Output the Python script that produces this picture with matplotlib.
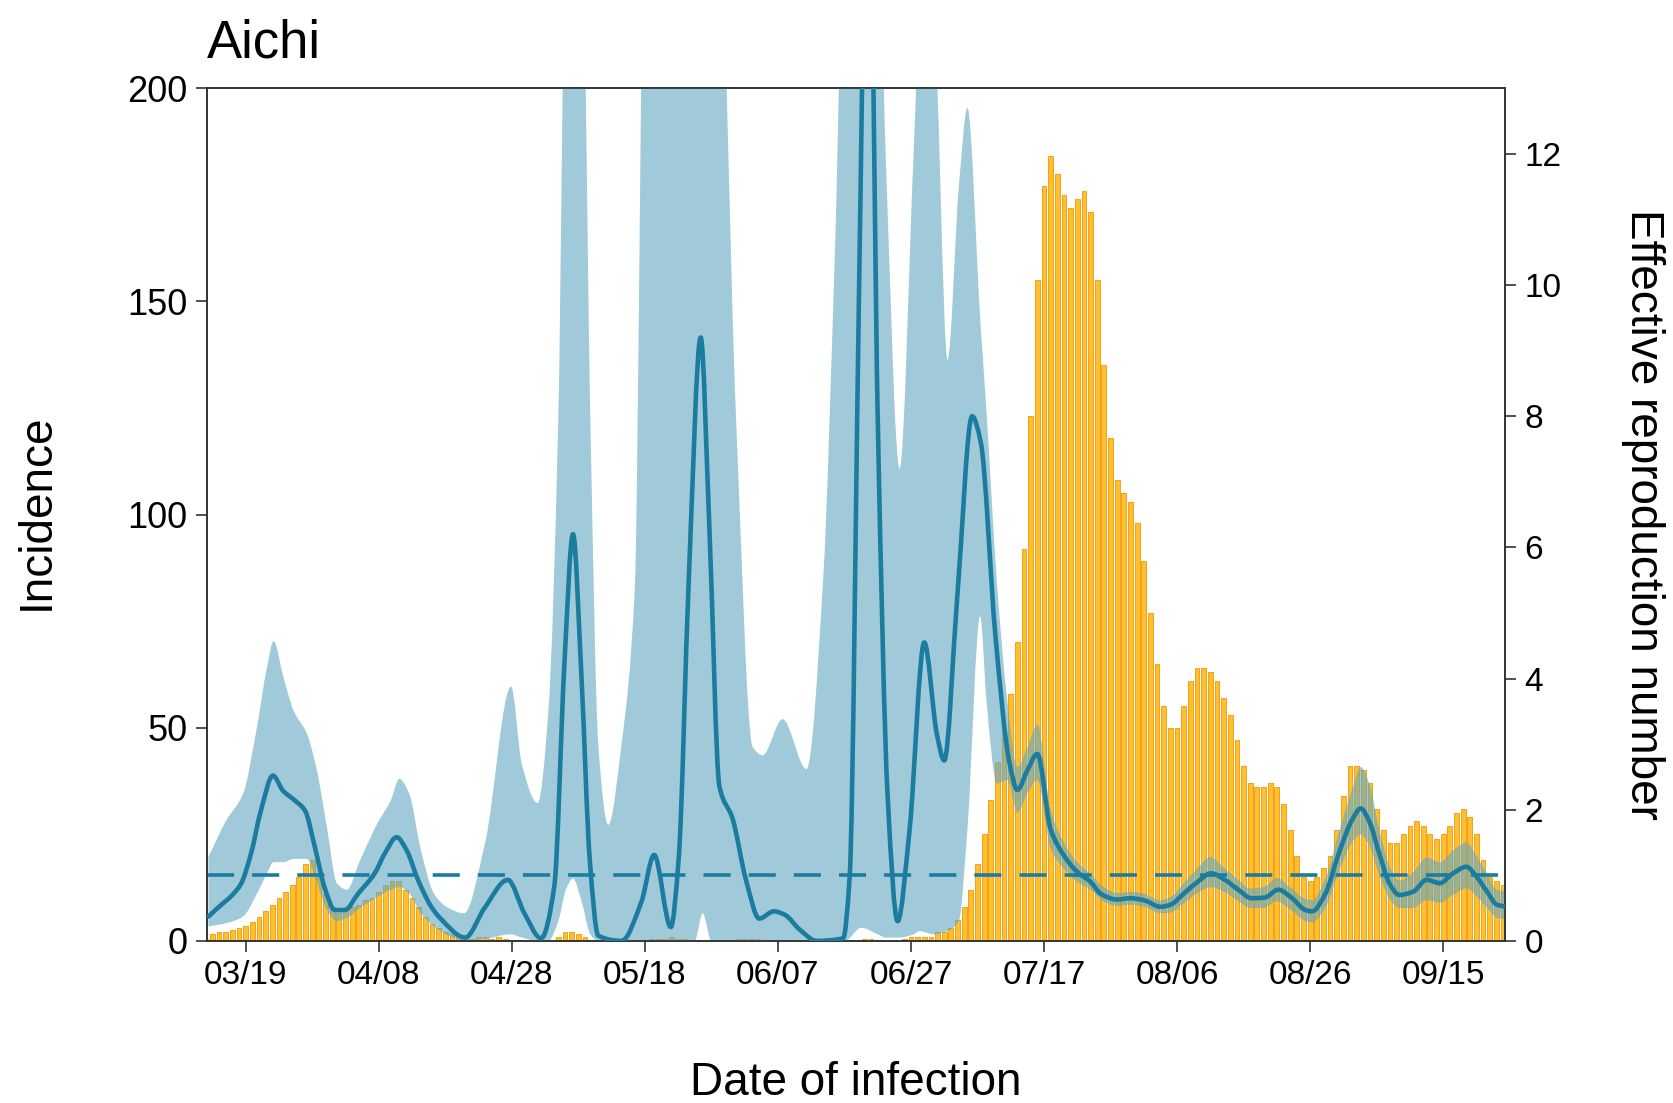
import matplotlib
matplotlib.use('Agg')
import matplotlib.pyplot as plt
from matplotlib.path import Path
from matplotlib.patches import PathPatch
import numpy as np

plt.rcParams['font.family'] = ['Liberation Sans', 'DejaVu Sans']

# ---------------- data (day offsets relative to 03/19) ----------------
tick_days = [0, 20, 40, 60, 80, 100, 120, 140, 160, 180]
tick_labels = ['03/19', '04/08', '04/28', '05/18', '06/07',
               '06/27', '07/17', '08/06', '08/26', '09/15']

bar_start_day = -6
incidence = [
    0.5, 1.5, 2, 2, 2.5, 3,
    3.5, 4.5, 5.5, 7, 8.5, 10, 11.5, 13, 15, 18,
    19, 15, 11, 8, 6.5, 7, 8, 8.5, 9.5, 10,
    11.5, 13, 14, 14, 12, 10, 8, 5.5, 4, 3,
    2, 1.5, 1, 0.5, 0.5, 1, 1, 0.5, 1, 0.5,
    0, 0, 0, 0, 0, 0, 0, 1, 2, 2,
    1.5, 1, 0, 0, 0, 0, 0, 0, 0, 0,
    0, 0.5, 0.5, 0.5, 1, 0.5, 0.5, 0, 0, 0,
    0, 0, 0, 0, 0.5, 0.5, 0.5, 0.5, 0, 0,
    0, 0, 0, 0, 0, 0, 0, 0, 0, 0,
    0, 0, 0, 0.5, 0.5, 0, 0, 0, 0, 0.5,
    1, 1, 1, 1, 2, 2, 3, 5, 8, 12,
    18, 25, 33, 42, 50, 58, 70, 92, 123, 155,
    177, 184, 180, 175, 172, 174, 176, 171, 155, 135,
    118, 108, 105, 103, 98, 89, 77, 65, 55, 50,
    50, 55, 61, 64, 64, 63, 61, 57, 53, 47,
    41, 37, 36, 36, 37, 36, 32, 26, 20, 15,
    14, 15, 17, 20, 26, 34, 41, 41, 40, 37,
    31, 26, 23, 23, 25, 27, 28, 27, 25, 24,
    25, 27, 30, 31, 29, 25, 19, 15, 14, 13,
]

rt_days = [-5.6, -4, -2, -0.7, 0.8, 2.3, 4.1, 5.6, 7.4, 8.9, 10.4, 11.9, 13.4,
           14.9, 16.9, 19.4, 20.9, 22.7, 24.2, 25.9, 27.9, 29.3, 33.0, 35.9,
           39.4, 41.9, 44.4, 46.4, 47.9, 49.2, 50.5, 51.7, 53.0, 56.5, 59.5,
           61.4, 63.9, 65.1, 66.6, 68.4, 69.7, 71.2, 73.2, 75.2, 77.2, 79.4,
           81.0, 83.3, 85.8, 89.8, 90.8, 92.3, 93.0, 94.0, 95.0, 96.5, 98.0,
           99.8, 102.0, 103.9, 105.0, 107.0, 109.2, 110.5, 112.7, 114.8, 116.0,
           117.5, 119.0, 121.0, 123.0, 125.0, 127.0, 128.5, 131.0, 133.0, 135.0,
           137.5, 139.0, 141.0, 143.1, 145.1, 147.2, 149.2, 151.2, 153.2, 155.2,
           157.3, 159.3, 160.3, 162.3, 164.3, 166.3, 167.6, 168.9, 170.4, 171.9,
           173.4, 175.5, 177.5, 179.5, 181.5, 183.5, 185.0, 186.6, 188.1, 189.6]
rt_mean = [0.37, 0.52, 0.70, 0.87, 1.33, 1.99, 2.52, 2.29, 2.14, 1.99, 1.43, 0.80, 0.47,
           0.47, 0.72, 1.03, 1.33, 1.58, 1.38, 0.93, 0.52, 0.34, 0.05, 0.50,
           0.93, 0.42, 0.04, 0.84, 4.2, 6.2, 3.97, 1.27, 0.08, 0.0, 0.6,
           1.31, 0.21, 1.27, 5.5, 9.2, 6.3, 2.36, 1.86, 0.93, 0.34, 0.45,
           0.40, 0.17, 0.0, 0.04, 1.0, 10.6, 14.5, 14.5, 8.0, 2.2, 0.3,
           1.7, 4.55, 3.15, 2.75, 5.3, 8.0, 7.6, 4.65, 2.72, 2.3,
           2.6, 2.85, 1.7, 1.3, 1.05, 0.9, 0.72, 0.63, 0.65, 0.62,
           0.52, 0.55, 0.72, 0.9, 1.03, 0.93, 0.78, 0.65, 0.66, 0.78,
           0.65, 0.47, 0.45, 0.72, 1.33, 1.84, 2.02, 1.82, 1.33, 0.88,
           0.70, 0.75, 0.93, 0.88, 1.03, 1.13, 0.98, 0.75, 0.55, 0.52]

ci_days = [-5.6, -2.9, -0.4, 1.7, 3.2, 4.2, 5.7, 7.2, 9.2, 10.6, 12.2, 13.7, 15.2,
           17.2, 19.8, 21.8, 23.1, 24.6, 26.3, 28.3, 30.5, 32.8, 36.0, 39.9,
           41.5, 43.9, 45.5, 47.0, 48.2, 49.2, 50.5, 51.8, 53.0, 54.5, 56.5,
           58.5, 60.0, 67.5, 68.7, 70.0, 71.0, 73.7, 76.2, 77.7, 80.7, 84.3,
           86.8, 88.6, 90.1, 92.5, 95.0, 96.2, 98.3, 100.4, 101.3, 103.4, 105.5,
           107.2, 108.5, 110.4, 111.4, 112.9, 114.5, 116.0, 117.5, 119.0, 121.0,
           123.0, 125.0, 127.0, 129.0, 131.0, 133.0, 135.0, 137.5, 139.0, 141.0,
           143.0, 145.0, 147.0, 149.0, 151.0, 153.0, 155.0, 157.0, 159.3, 160.3,
           162.3, 164.3, 166.3, 167.6, 168.9, 170.4, 171.9, 173.4, 175.5, 177.5,
           179.5, 181.5, 183.5, 185.0, 186.6, 188.1, 189.6]
ci_low = [0.22, 0.27, 0.37, 0.72, 1.03, 1.2, 1.2, 1.25, 1.25, 0.93, 0.47, 0.3, 0.35,
          0.5, 0.67, 0.78, 0.82, 0.72, 0.42, 0.22, 0.08, 0.0, 0.03, 0.1,
          0.05, 0.0, 0.0, 0.3, 0.8, 0.95, 0.6, 0.1, 0.0, 0.0, 0.0,
          0.0, 0.0, 0.0, 0.42, 0.0, 0.0, 0.0, 0.0, 0.0, 0.0, 0.0,
          0.0, 0.0, 0.0, 0.2, 0.1, 0.05, 0.05, 0.1, 0.15, 0.1, 0.15,
          0.3, 1.72, 4.95, 3.6, 2.4, 2.45, 1.95, 2.25, 2.45, 1.4,
          1.1, 0.9, 0.78, 0.6, 0.53, 0.55, 0.52, 0.42, 0.43, 0.57,
          0.72, 0.82, 0.75, 0.62, 0.5, 0.5, 0.6, 0.48, 0.3, 0.28,
          0.5, 1.05, 1.5, 1.62, 1.45, 1.0, 0.65, 0.5, 0.5, 0.62,
          0.58, 0.7, 0.8, 0.68, 0.5, 0.35, 0.32]
ci_high = [1.28, 1.84, 2.24, 3.26, 4.17, 4.57, 4.01, 3.51, 3.16, 2.65, 1.74, 0.88, 0.78,
           1.23, 1.79, 2.14, 2.47, 2.24, 1.4, 0.72, 0.5, 0.42, 1.5, 3.88,
           2.7, 2.1, 3.5, 8.0, 16, 16, 16, 8.0, 3.0, 1.77, 3.0,
           5.4, 16, 16, 16, 16, 16, 8.0, 2.96, 2.83, 3.38, 2.62,
           5.5, 10.6, 16, 16, 16, 12.0, 7.2, 12.0, 14.0, 14.0, 8.86,
           11.5, 12.7, 9.5, 8.0, 5.5, 3.65, 2.65, 2.95, 3.3, 2.0,
           1.5, 1.2, 1.02, 0.82, 0.73, 0.75, 0.72, 0.62, 0.67, 0.88,
           1.1, 1.28, 1.12, 0.95, 0.8, 0.82, 0.96, 0.82, 0.64, 0.62,
           0.95, 1.65, 2.3, 2.65, 2.4, 1.7, 1.15, 0.92, 1.05, 1.27,
           1.2, 1.38, 1.5, 1.3, 1.02, 0.78, 0.75]

# ---------------- styling ----------------
line_color = '#1b7ca0'
band_color = (97 / 255, 168 / 255, 193 / 255)
bar_face = '#FFBF2F'
bar_edge = '#F3A11A'
spine_color = '#333333'


def smooth_segments(x, y):
    """Control points of a monotone (PCHIP-style) cubic Bezier curve through the
    given points, for rendering only."""
    x = np.asarray(x, float)
    y = np.asarray(y, float)
    h = np.diff(x)
    d = np.diff(y) / h
    m = np.zeros_like(y)
    m[0], m[-1] = d[0], d[-1]
    for k in range(1, len(x) - 1):
        if d[k - 1] * d[k] > 0:
            w1 = 2 * h[k] + h[k - 1]
            w2 = h[k] + 2 * h[k - 1]
            m[k] = (w1 + w2) / (w1 / d[k - 1] + w2 / d[k])
    segs = []
    for k in range(len(x) - 1):
        p0 = (x[k], y[k])
        p1 = (x[k] + h[k] / 3, y[k] + m[k] * h[k] / 3)
        p2 = (x[k + 1] - h[k] / 3, y[k + 1] - m[k + 1] * h[k] / 3)
        p3 = (x[k + 1], y[k + 1])
        segs.append((p0, p1, p2, p3))
    return segs


def curve_path(x, y):
    segs = smooth_segments(x, y)
    verts = [segs[0][0]]
    codes = [Path.MOVETO]
    for _, p1, p2, p3 in segs:
        verts += [p1, p2, p3]
        codes += [Path.CURVE4] * 3
    return Path(verts, codes)


def band_path(x, lo, hi):
    up = smooth_segments(x, hi)
    dn = smooth_segments(x, lo)
    verts = [up[0][0]]
    codes = [Path.MOVETO]
    for _, p1, p2, p3 in up:
        verts += [p1, p2, p3]
        codes += [Path.CURVE4] * 3
    verts.append(dn[-1][3])
    codes.append(Path.LINETO)
    for p0, p1, p2, _ in reversed(dn):
        verts += [p2, p1, p0]
        codes += [Path.CURVE4] * 3
    verts.append(up[0][0])
    codes.append(Path.CLOSEPOLY)
    return Path(verts, codes)


fig = plt.figure(figsize=(16.73, 11.03), dpi=100)
ax = fig.add_axes([0.1237, 0.147, 0.7759, 0.773])

bar_days = np.arange(bar_start_day, bar_start_day + len(incidence))
ax.bar(bar_days, incidence, width=0.72, color=bar_face, edgecolor=bar_edge,
       linewidth=0.7, zorder=1)
ax.set_ylim(0, 200)
ax.set_yticks([0, 50, 100, 150, 200])
ax.set_xlim(-5.82, 189.3)
ax.set_xticks(tick_days)
ax.set_xticklabels(tick_labels)

ax2 = ax.twinx()
ax2.add_patch(PathPatch(band_path(ci_days, ci_low, ci_high), facecolor=band_color,
                        alpha=0.6, linewidth=0, zorder=1))
ax2.add_patch(PathPatch(curve_path(rt_days, rt_mean), facecolor='none',
                        edgecolor=line_color, linewidth=3.3, zorder=3,
                        joinstyle='round', capstyle='round'))
ax2.axhline(1, color=line_color, lw=2.6, dashes=(7.5, 5), zorder=2)
ax2.set_ylim(0, 13)
ax2.set_yticks([0, 2, 4, 6, 8, 10, 12])
ax2.set_xlim(-5.82, 189.3)

for a in (ax, ax2):
    for s in a.spines.values():
        s.set_color(spine_color)
        s.set_linewidth(1.2)
ax.tick_params(axis='y', labelsize=26, length=8, width=1.2, color=spine_color, pad=6)
ax.tick_params(axis='x', labelsize=24, length=8, width=1.2, color=spine_color, pad=6)
ax2.tick_params(axis='y', labelsize=24, length=8, width=1.2, color=spine_color, pad=6)

fig.text(0.1237, 0.948, 'Aichi', fontsize=38, ha='left', va='baseline')
fig.text(0.0221, 0.536, 'Incidence', fontsize=33, rotation=90, ha='center', va='center')
fig.text(0.5117, 0.018, 'Date of infection', fontsize=33, ha='center', va='center')
fig.text(0.982, 0.534, 'Effective reproduction number', fontsize=33, rotation=270,
         ha='center', va='center')

fig.savefig('out.png', dpi=100)
